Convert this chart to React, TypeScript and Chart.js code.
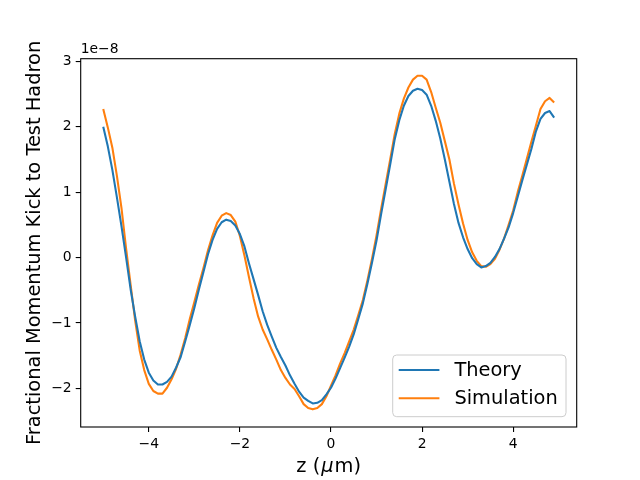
import { useEffect, useRef } from "react"
import { Chart, registerables, type ChartConfiguration, type Plugin } from "chart.js"

Chart.register(...registerables)

// z positions (µm)
const zValues = [
	-5.0, -4.9, -4.8, -4.7, -4.6, -4.5, -4.4, -4.3, -4.2, -4.1,
	-4.0, -3.9, -3.8, -3.7, -3.6, -3.5, -3.4, -3.3, -3.2, -3.1,
	-3.0, -2.9, -2.8, -2.7, -2.6, -2.5, -2.4, -2.3, -2.2, -2.1,
	-2.0, -1.9, -1.8, -1.7, -1.6, -1.5, -1.4, -1.3, -1.2, -1.1,
	-1.0, -0.9, -0.8, -0.7, -0.6, -0.5, -0.4, -0.3, -0.2, -0.1,
	0.0, 0.1, 0.2, 0.3, 0.4, 0.5, 0.6, 0.7, 0.8, 0.9,
	1.0, 1.1, 1.2, 1.3, 1.4, 1.5, 1.6, 1.7, 1.8, 1.9,
	2.0, 2.1, 2.2, 2.3, 2.4, 2.5, 2.6, 2.7, 2.8, 2.9,
	3.0, 3.1, 3.2, 3.3, 3.4, 3.5, 3.6, 3.7, 3.8, 3.9,
	4.0, 4.1, 4.2, 4.3, 4.4, 4.5, 4.6, 4.7, 4.8, 4.9,
]

// kick values, in units of 1e-8
const theory = [
	2.0, 1.7, 1.34, 0.92, 0.48, 0.01, -0.48, -0.9, -1.28, -1.56,
	-1.76, -1.88, -1.94, -1.94, -1.9, -1.82, -1.68, -1.52, -1.28, -1.03,
	-0.77, -0.49, -0.22, 0.05, 0.27, 0.44, 0.54, 0.58, 0.56, 0.49,
	0.36, 0.17, -0.09, -0.33, -0.57, -0.82, -1.03, -1.21, -1.38, -1.52,
	-1.65, -1.8, -1.93, -2.05, -2.14, -2.19, -2.23, -2.22, -2.18, -2.09,
	-1.99, -1.85, -1.69, -1.53, -1.36, -1.17, -0.94, -0.7, -0.4, -0.08,
	0.26, 0.66, 1.04, 1.42, 1.81, 2.1, 2.32, 2.47, 2.55, 2.58,
	2.56, 2.49, 2.32, 2.09, 1.82, 1.5, 1.16, 0.82, 0.53, 0.31,
	0.13, -0.01, -0.1, -0.15, -0.13, -0.08, 0.01, 0.13, 0.29, 0.46,
	0.68, 0.93, 1.18, 1.42, 1.66, 1.93, 2.12, 2.21, 2.24, 2.14,
]

const simulation = [
	2.27, 1.99, 1.68, 1.25, 0.76, 0.15, -0.41, -0.96, -1.42, -1.72,
	-1.93, -2.04, -2.08, -2.08, -1.99, -1.86, -1.7, -1.48, -1.23, -0.94,
	-0.68, -0.41, -0.16, 0.11, 0.34, 0.53, 0.64, 0.68, 0.65, 0.55,
	0.33, 0.03, -0.3, -0.62, -0.9, -1.1, -1.25, -1.41, -1.56, -1.72,
	-1.84, -1.94, -2.01, -2.12, -2.24, -2.3, -2.32, -2.3, -2.24, -2.12,
	-1.96, -1.8, -1.62, -1.46, -1.28, -1.1, -0.88, -0.65, -0.35, -0.02,
	0.34, 0.74, 1.12, 1.5, 1.89, 2.2, 2.43, 2.6, 2.72, 2.78,
	2.78, 2.72, 2.53, 2.29, 2.06, 1.78, 1.5, 1.13, 0.81, 0.52,
	0.27, 0.08, -0.05, -0.13, -0.14, -0.1, -0.02, 0.12, 0.29, 0.5,
	0.72, 1.0, 1.25, 1.51, 1.77, 2.02, 2.27, 2.39, 2.44, 2.37,
]

const seriesLabels = ["Theory", "Simulation"]
const seriesColors = ["#1f77b4", "#ff7f0e"]
const xTicks = [-4, -2, 0, 2, 4]
const yTicks = [-2, -1, 0, 1, 2, 3]
const yTitle = "Fractional Momentum Kick to Test Hadron"
const offsetText = "1e\u22128"

const FONT = "'DejaVu Sans', sans-serif"

const minus = (v: number | string) => String(v).replace("-", "\u2212")

// frame, offset text, axis titles and the legend, drawn matplotlib-style
const decor: Plugin = {
	id: "decor",
	afterDraw(chart) {
		const { ctx, chartArea: a } = chart
		ctx.save()

		ctx.strokeStyle = "#000"
		ctx.lineWidth = 1.1
		ctx.strokeRect(a.left, a.top, a.right - a.left, a.bottom - a.top)

		ctx.fillStyle = "#000"
		ctx.font = `13.9px ${FONT}`
		ctx.textAlign = "left"
		ctx.textBaseline = "alphabetic"
		ctx.fillText(offsetText, a.left, a.top - 6)

		// x title: z (μm) with italic mu
		ctx.font = `19.4px ${FONT}`
		const p1 = "z (", p3 = "m)"
		const w1 = ctx.measureText(p1).width
		const w3 = ctx.measureText(p3).width
		ctx.font = `italic 19.4px ${FONT}`
		const w2 = ctx.measureText("\u03bc").width
		let x = (a.left + a.right) / 2 - (w1 + w2 + w3 + 2) / 2
		const by = 471.5
		ctx.font = `19.4px ${FONT}`
		ctx.fillText(p1, x, by)
		x += w1 + 1
		ctx.font = `italic 19.4px ${FONT}`
		ctx.fillText("\u03bc", x, by)
		x += w2 + 1
		ctx.font = `19.4px ${FONT}`
		ctx.fillText(p3, x, by)

		// y title
		ctx.save()
		ctx.translate(40, (a.top + a.bottom) / 2)
		ctx.rotate(-Math.PI / 2)
		ctx.textAlign = "center"
		ctx.fillText(yTitle, 0, 0)
		ctx.restore()

		// legend, lower right
		ctx.font = `19.4px ${FONT}`
		const textW = Math.max(...seriesLabels.map((s) => ctx.measureText(s).width))
		const boxW = 7.8 + 38.9 + 15.5 + textW + 7.8
		const boxH = 61.7
		const bx = a.right - 10.7 - boxW
		const byTop = a.bottom - 10.3 - boxH
		ctx.beginPath()
		ctx.roundRect(bx, byTop, boxW, boxH, 4)
		ctx.fillStyle = "rgba(255,255,255,0.8)"
		ctx.fill()
		ctx.strokeStyle = "#cccccc"
		ctx.lineWidth = 1
		ctx.stroke()
		seriesLabels.forEach((label, i) => {
			const ry = byTop + 15 + i * 28.3
			ctx.beginPath()
			ctx.moveTo(bx + 6, ry)
			ctx.lineTo(bx + 6 + 40.7, ry)
			ctx.strokeStyle = seriesColors[i]
			ctx.lineWidth = 2.08
			ctx.stroke()
			ctx.fillStyle = "#000"
			ctx.textAlign = "left"
			ctx.textBaseline = "middle"
			ctx.fillText(label, bx + 61.7, ry + 1)
		})

		ctx.restore()
	},
}

export default function App() {
	const canvasRef = useRef<HTMLCanvasElement>(null)
	const chartRef = useRef<Chart | null>(null)

	useEffect(() => {
		if (!canvasRef.current) return
		if (chartRef.current) chartRef.current.destroy()

		const config: ChartConfiguration = {
			type: "line",
			data: {
				datasets: [theory, simulation].map((vals, i) => ({
					label: seriesLabels[i],
					data: vals.map((y, j) => ({ x: zValues[j], y })),
					borderColor: seriesColors[i],
					backgroundColor: seriesColors[i],
					borderWidth: 2.08,
					pointRadius: 0,
					tension: 0,
					fill: false,
					borderJoinStyle: "round",
				})),
			},
			plugins: [decor],
			options: {
				responsive: false,
				animation: false,
				devicePixelRatio: 1,
				layout: { padding: { left: 0, top: 58.7, right: 63.3, bottom: 0 } },
				plugins: {
					legend: { display: false },
					tooltip: { enabled: false },
				},
				scales: {
					x: {
						type: "linear",
						min: -5.495,
						max: 5.395,
						afterBuildTicks: (scale) => {
							scale.ticks = xTicks.map((v) => ({ value: v }))
						},
						afterFit: (scale) => {
							scale.height = 53
						},
						border: { display: false },
						grid: { drawOnChartArea: false, drawTicks: true, tickLength: 5, color: "#000", lineWidth: 1.1 },
						ticks: {
							color: "#000",
							padding: 4,
							maxRotation: 0,
							font: { family: FONT, size: 13.9 },
							callback: (v) => minus(v),
						},
					},
					y: {
						type: "linear",
						min: -2.59,
						max: 3.04,
						afterBuildTicks: (scale) => {
							scale.ticks = yTicks.map((v) => ({ value: v }))
						},
						afterFit: (scale) => {
							scale.width = 80.7
						},
						border: { display: false },
						grid: { drawOnChartArea: false, drawTicks: true, tickLength: 5, color: "#000", lineWidth: 1.1 },
						ticks: {
							color: "#000",
							padding: 4,
							font: { family: FONT, size: 13.9 },
							callback: (v) => minus(v),
						},
					},
				},
			},
		}

		chartRef.current = new Chart(canvasRef.current, config)

		return () => {
			if (chartRef.current) {
				chartRef.current.destroy()
				chartRef.current = null
			}
		}
	}, [])

	return (
		<div style={{ position: "absolute", left: 0, top: 0, width: 640, height: 480, background: "#fff" }}>
			<canvas ref={canvasRef} width={640} height={480}></canvas>
		</div>
	)
}
